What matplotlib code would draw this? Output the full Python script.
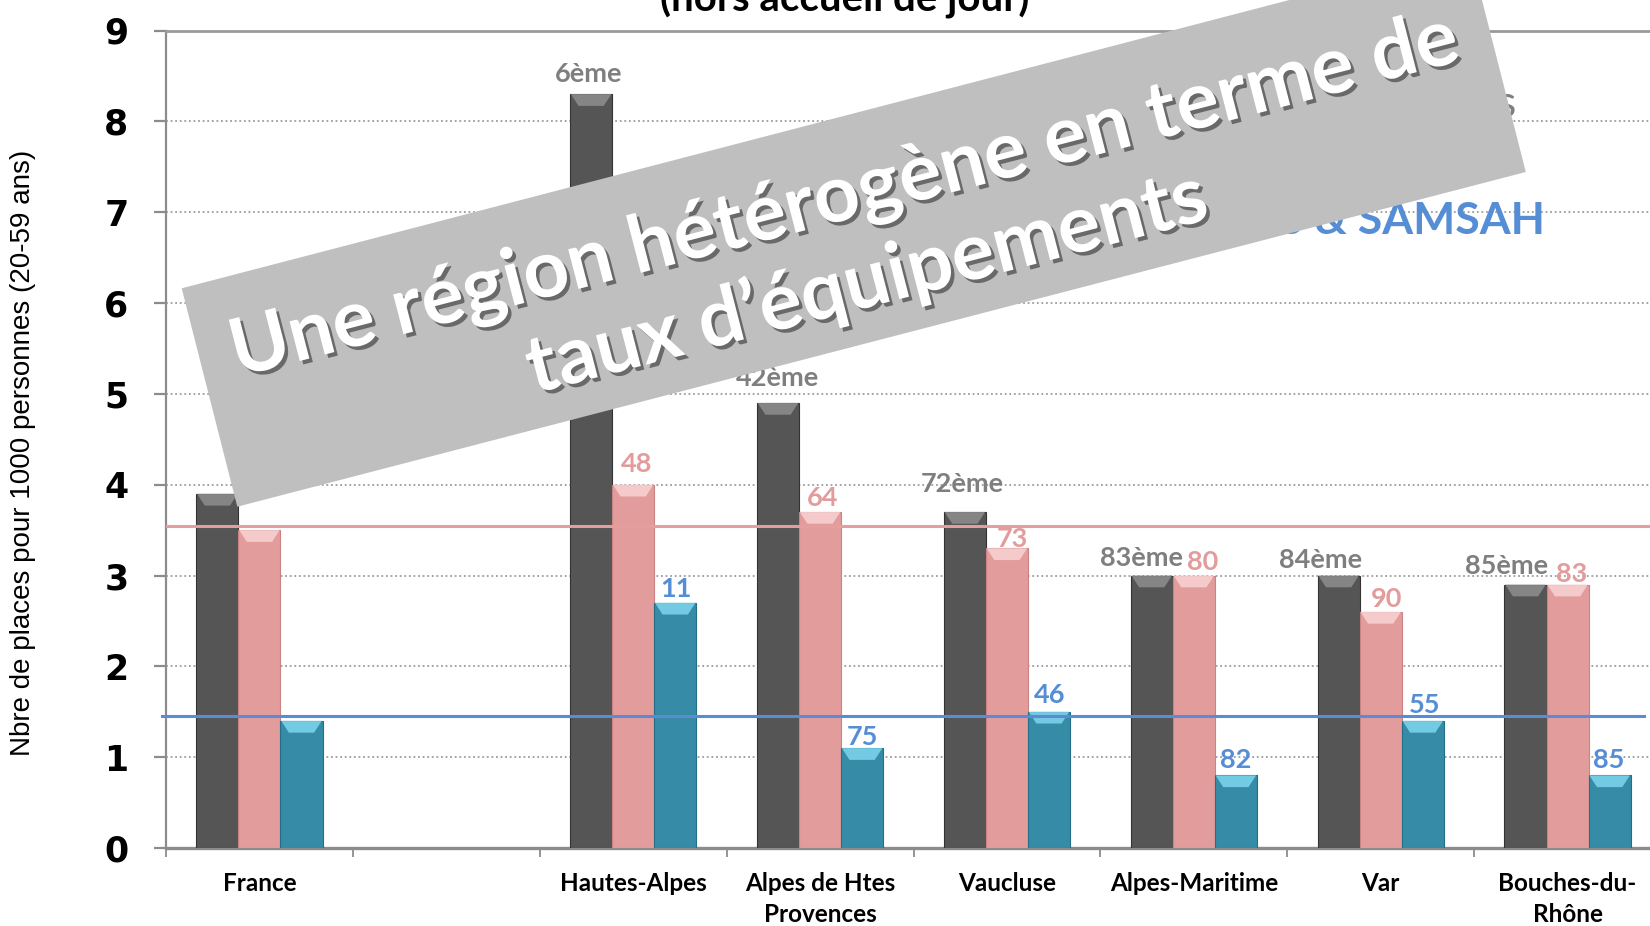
import numpy as np
import matplotlib
matplotlib.use("Agg")
import matplotlib.pyplot as plt
from matplotlib.patches import Polygon
import matplotlib.patheffects as pe

# ---------------- data ----------------
categories = ["France", "", "Hautes-Alpes", "Alpes de Htes\nProvences", "Vaucluse",
              "Alpes-Maritime", "Var", "Bouches-du-\nRhône"]
etablissements = [3.9, np.nan, 8.3, 4.9, 3.7, 3.0, 3.0, 2.9]
foyers = [3.5, np.nan, 4.0, 3.7, 3.3, 3.0, 2.6, 2.9]
services = [1.4, np.nan, 2.7, 1.1, 1.5, 0.8, 1.4, 0.8]
etab_rank = ["", "", "6ème", "42ème", "72ème", "83ème", "84ème", "85ème"]
foyers_rank = ["", "", "48", "64", "73", "80", "90", "83"]
services_rank = ["", "", "11", "75", "46", "82", "55", "85"]
ref_foyers = 3.55
ref_services = 1.45
yticks = list(range(0, 10))

# ---------------- style ----------------
W, H = 1650, 926
DPI = 100
PX = 72.0 / DPI  # points per pixel

colors = ["#555555", "#E39C9C", "#368BA6"]
edge_colors = ["#333333", "#C98383", "#236F87"]
bevel_colors = ["#8E8E8E", "#F8D3D3", "#7FD6EE"]
label_colors = ["#7F7F7F", "#E39C9C", "#558ED5"]
# manual label nudges (pixels): horizontal and vertical
label_dx = [[0, 0, -3, 0, -3, -10, -18, -19],
            [0, 0, 3, 3, 5, 9, 6, 4],
            [0, 0, 1, 0, 1, 0, 2, -1]]
label_dy = [[0, 0, 20, 25, 28, 17, 16, 19],
            [0, 0, 21, 14, 9, 14, 13, 11],
            [0, 0, 14, 11, 17, 15, 16, 15]]

fig = plt.figure(figsize=(W / DPI, H / DPI), dpi=DPI)
fig.patch.set_facecolor("white")

left_px, right_px, bottom_px, top_px = 166, 1661, 848, 30.5
ax = fig.add_axes([left_px / W, 1 - bottom_px / H,
                   (right_px - left_px) / W, (bottom_px - top_px) / H])

x = np.arange(len(categories))
bw = 0.225
series = [np.array(etablissements, float), np.array(foyers, float), np.array(services, float)]
ranks = [etab_rank, foyers_rank, services_rank]

ax.set_xlim(-0.5, len(categories) - 0.5)
ax.set_ylim(0, 9)

# grid
for yv in yticks[1:-1]:
    ax.axhline(yv, color="#8C8C8C", lw=1.1, ls=(0, (1.2, 1.8)), zorder=1)

bevel_h = 0.13
for k, vals in enumerate(series):
    xs = x + (k - 1) * bw
    m = np.isfinite(vals)
    ax.bar(xs[m], vals[m], bw, color=colors[k], edgecolor=edge_colors[k], lw=0.8, zorder=3)
    for xi, v in zip(xs[m], vals[m]):
        x0, x1 = xi - bw / 2, xi + bw / 2
        ins = bw * 0.2
        poly = Polygon([(x0 + 0.004, v), (x1 - 0.004, v), (x1 - ins, v - bevel_h), (x0 + ins, v - bevel_h)],
                       closed=True, facecolor=bevel_colors[k], edgecolor="none", alpha=0.85, zorder=3.5)
        ax.add_patch(poly)
    for i, (xi, v, lab) in enumerate(zip(xs, vals, ranks[k])):
        if lab and np.isfinite(v):
            ax.annotate(lab, (xi, v), xytext=(label_dx[k][i] * PX, label_dy[k][i] * PX),
                        textcoords="offset points", ha="center", va="center",
                        fontsize=19.5, fontweight="bold", family="Lato",
                        color=label_colors[k], zorder=5)

# reference lines
ax.axhline(ref_foyers, xmin=0.001, xmax=1.0, color="#E59E9E", lw=2.2, zorder=4, clip_on=False)
ax.axhline(ref_services, xmin=-0.003, xmax=0.9886, color="#5B8BD3", lw=2.2, zorder=4, clip_on=False)

# spines
ax.spines["right"].set_visible(False)
ax.spines["top"].set_color("#9A9A9A")
ax.spines["top"].set_linewidth(2.0)
ax.spines["left"].set_color("#8C8C8C")
ax.spines["left"].set_linewidth(1.6)
ax.spines["bottom"].set_color("#8C8C8C")
ax.spines["bottom"].set_linewidth(2.4)

# y ticks
ax.set_yticks(yticks)
ax.set_yticklabels([str(t) for t in yticks], fontsize=25, fontweight="bold", family="DejaVu Sans")
ax.tick_params(axis="y", direction="out", length=9, width=1.6, color="#8C8C8C", pad=18)

# x ticks
ax.set_xticks(x)
ax.set_xticklabels(categories, fontsize=17.5, fontweight="bold", family="Lato", linespacing=1.45)
ax.set_xticks(np.arange(-0.5, len(categories) + 0.5, 1), minor=True)
ax.tick_params(axis="x", which="major", length=0, pad=17)
ax.tick_params(axis="x", which="minor", direction="out", length=6.5, width=1.3, color="#8C8C8C")

# y label
fig.text(23 / W, 1 - 453 / H, "Nbre de places pour 1000 personnes (20-59 ans)", rotation=90,
         ha="center", va="center", fontsize=20, family="Liberation Sans", color="black")

# title (partially cut at top, as in the source)
fig.text(845 / W, 1 - 11.5 / H, "(hors accueil de jour)", ha="center", va="baseline",
         fontsize=29, fontweight="bold", family="Lato", color="black")

# legend-like texts, partly hidden by the banner
fig.text(1517 / W, 1 - 117 / H, "Établissements", ha="right", va="baseline",
         fontsize=32, family="Lato", color="#7F7F7F", zorder=0.5)
fig.text(1545 / W, 1 - 234 / H, "SAVS & SAMSAH", ha="right", va="baseline",
         fontsize=32, fontweight="bold", family="Lato", color="#558ED5", zorder=0.5)

# banner
corners = [(181.7, 288.3), (1470.0, -47.0), (1525.8, 172.0), (237.3, 506.7)]
banner = Polygon([(cx / W, 1 - cy / H) for cx, cy in corners], closed=True,
                 transform=fig.transFigure, facecolor="#BFBFBF", edgecolor="none", zorder=1)
fig.add_artist(banner)
fig.text(856 / W, 1 - 240 / H, "Une région hétérogène en terme de\ntaux d\u2019équipements",
         rotation=14.5, rotation_mode="anchor", ha="center", va="center", multialignment="center",
         fontsize=57.5, fontweight="bold", family="Lato", color="white", linespacing=1.2, zorder=2,
         path_effects=[pe.withSimplePatchShadow(offset=(2.5, -2.5), shadow_rgbFace="black", alpha=0.45)])

fig.savefig("out.png", dpi=DPI, facecolor="white")
